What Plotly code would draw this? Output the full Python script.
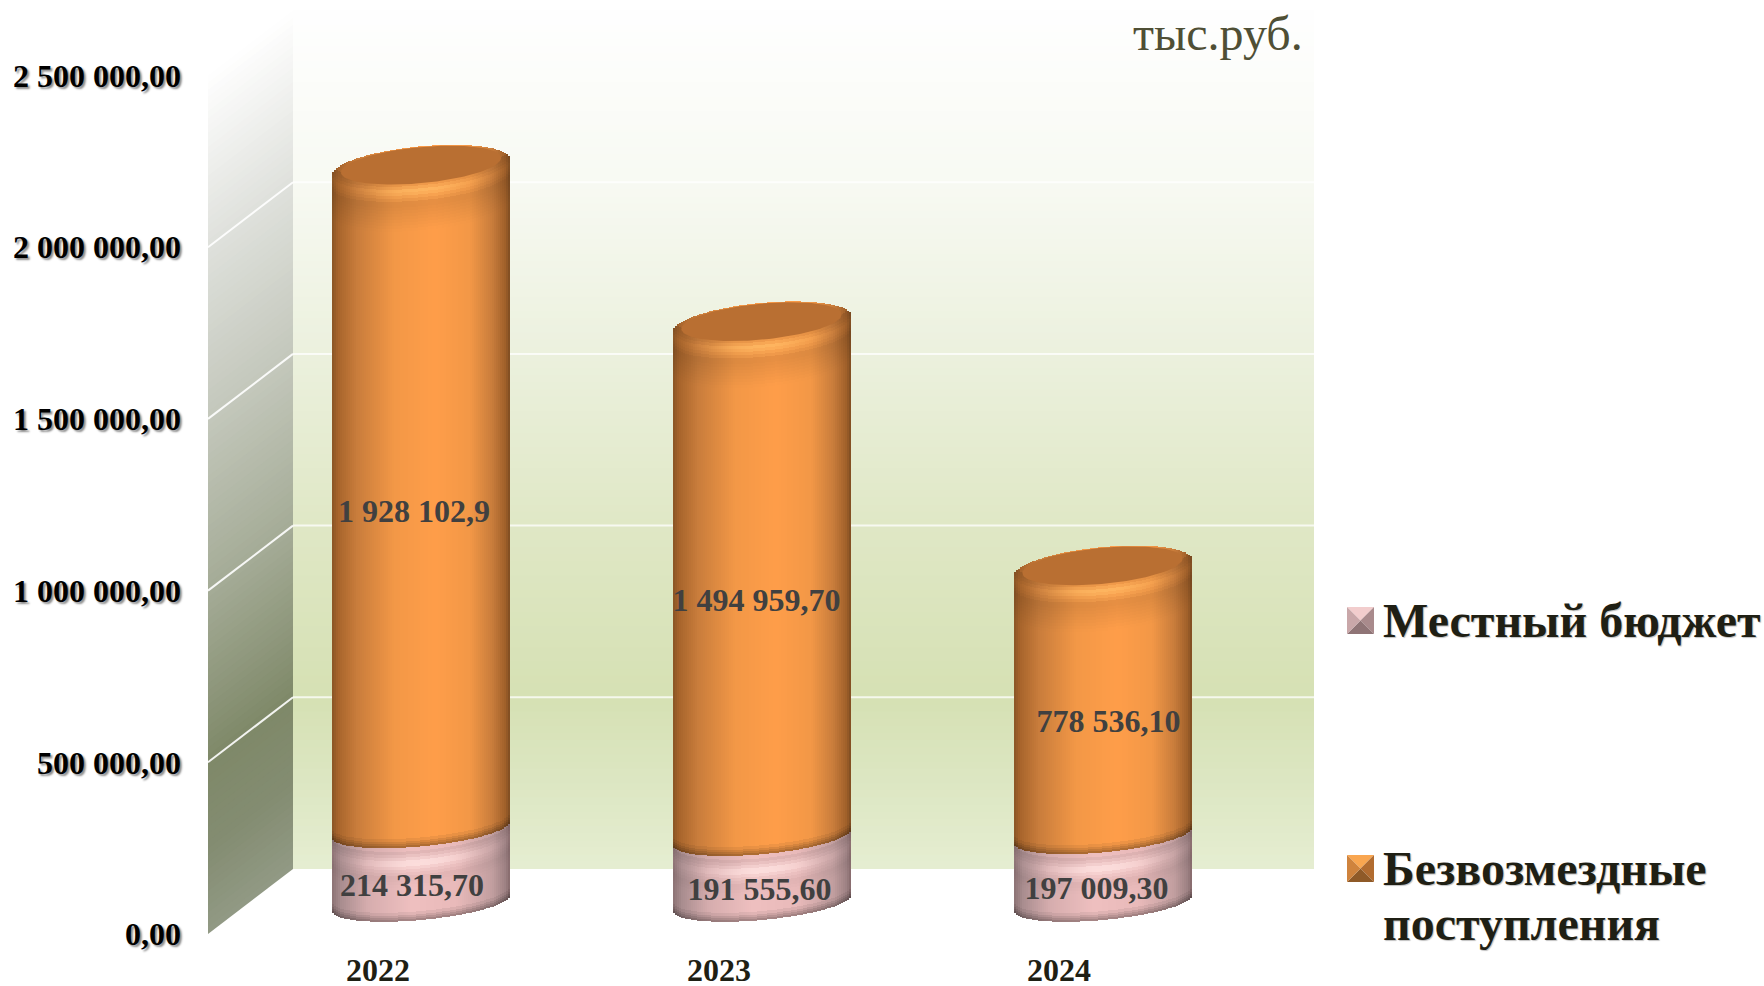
import numpy as np
import plotly.graph_objects as go

# ---------- data ----------
years = ["2022", "2023", "2024"]
local_budget = [214315.70, 191555.60, 197009.30]
grants = [1928102.9, 1494959.70, 778536.10]
local_labels = ["214 315,70", "191 555,60", "197 009,30"]
grant_labels = ["1 928 102,9", "1 494 959,70", "778 536,10"]
tick_values = [0, 500000, 1000000, 1500000, 2000000, 2500000]
tick_labels = ["0,00", "500 000,00", "1 000 000,00", "1 500 000,00", "2 000 000,00", "2 500 000,00"]
series_names = ["Местный бюджет", "Безвозмездные", "поступления"]
unit_label = "тыс.руб."

# ---------- geometry / style ----------
W, H = 1764, 986
PLOT_L, PLOT_B = 182, 948
Y0_PX = 934
PPU = 171.7 / 500000          # pixels per value unit
WALL_L, WALL_R, WALL_END = 208, 293, 1314
DEPTH_PX = 65
BASE_PX = 31                  # cylinder centre above the front-zero line
BAR_CENTERS = [421, 761.5, 1102.5]
YEAR_X = [378, 719, 1059]
HALF_W = 89
ELL_B = 21
SHEAR = 8
STRIP = 2
LABEL_DX_LOCAL = [-9, -2, -6]
LABEL_DX_GRANT = [-7, -5, 6]
LABEL_DY = -22
FONT = "Liberation Serif"

def hexrgb(h):
    return np.array([int(h[i:i + 2], 16) for i in (1, 3, 5)], float)

def ramp(stops, t):
    xs = [s[0] for s in stops]
    cs = np.array([hexrgb(s[1]) for s in stops])
    return np.array([np.interp(t, xs, cs[:, k]) for k in range(3)])

def css(c):
    c = np.clip(c, 0, 255)
    return "rgb(%d,%d,%d)" % tuple(c)

ORANGE = [(-1, "#8a5526"), (-0.93, "#a8652c"), (-0.72, "#c97d3c"), (-0.3, "#f39847"), (0.15, "#ff9e4a"),
          (0.55, "#f39847"), (0.8, "#c97d3c"), (0.95, "#a0602a"), (1, "#7d4c22")]
PINK = [(-1, "#8c7274"), (-0.9, "#a98d8f"), (-0.6, "#d6adae"), (-0.1, "#efc0c0"), (0.4, "#e9baba"),
        (0.8, "#c29fa0"), (0.95, "#9d8183"), (1, "#85696b")]

def v_of(px):            # pixel rows -> value units
    return px / PPU

us = (np.arange(-HALF_W, HALF_W, STRIP) + STRIP / 2) / HALF_W
prof = np.sqrt(1 - us ** 2)

bx, bw, bb, bh, bc = [], [], [], [], []

def add(cx, u, lo_val, hi_val, col):
    if hi_val <= lo_val:
        return
    bx.append(cx + u * HALF_W)
    bw.append(STRIP)
    bb.append(lo_val)
    bh.append(hi_val - lo_val)
    bc.append(css(col))

D = v_of(BASE_PX)

def segment(cx, v0, v1, stops, hl_col, d_pts, m_pts, w_pts, low_b):
    """One cylinder segment between stacked values v0 and v1."""
    edges = np.arange(d_pts[0], d_pts[-1] + 1, 3)
    for u, s in zip(us, prof):
        col = ramp(stops, u)
        lo = D + v0 + v_of(SHEAR * u - low_b * s)
        up = D + v1 + v_of(SHEAR * u + ELL_B * s)
        lower_top = D + v1 + v_of(SHEAR * u - ELL_B * s)
        add(cx, u, lo, up, col)
        # smooth shading under the top rim (highlight arc, then fading shadow)
        for d0, d1 in zip(edges[:-1], edges[1:]):
            mid = (d0 + d1) / 2
            m = np.interp(mid, d_pts, m_pts)
            w = np.interp(mid, d_pts, w_pts)
            c = col * m
            c = c + (hexrgb(hl_col) - c) * w * max(0, 1 - u * u) ** 3
            a = lower_top - v_of(d1)
            b = lower_top - v_of(d0)
            add(cx, u, max(a, lo), min(max(b, lo), up), c)
        # dark edge at the bottom
        for (d0, d1, m) in [(0, 2, 0.70), (2, 4, 0.78), (4, 6, 0.86), (6, 9, 0.94)]:
            add(cx, u, lo + v_of(d0), lo + v_of(d1), col * m)

OR_D = [-12, -6, -2, 2, 7, 14, 28, 42]
OR_M = [0.90, 0.92, 0.96, 1.0, 0.97, 0.90, 0.95, 1.0]
OR_W = [0.0, 0.05, 0.35, 0.75, 0.3, 0.0, 0.0, 0.0]
PK_D = [0, 6, 12, 18, 26, 36]
PK_M = [0.93, 0.97, 1.03, 1.0, 0.96, 1.0]
PK_W = [0.0, 0.3, 0.9, 0.3, 0.0, 0.0]

for i, cx in enumerate(BAR_CENTERS):
    segment(cx, 0, local_budget[i], PINK, "#ffe6e4", PK_D, PK_M, PK_W, 17)
for i, cx in enumerate(BAR_CENTERS):
    segment(cx, local_budget[i], local_budget[i] + grants[i], ORANGE, "#ffc06a", OR_D, OR_M, OR_W, 17)

fig = go.Figure()
fig.add_trace(go.Bar(x=bx, y=bh, base=bb, width=bw, marker=dict(color=bc, line=dict(width=0)),
                     showlegend=False, hoverinfo="skip"))

# top caps
theta = np.linspace(0, 2 * np.pi, 120)
for i, cx in enumerate(BAR_CENTERS):
    total = local_budget[i] + grants[i]
    a = HALF_W * 0.9
    b = ELL_B * 0.86
    xs = cx + a * np.cos(theta)
    ys = D + total + v_of(2.2 + SHEAR * 0.9 * np.cos(theta) + b * np.sin(theta))
    fig.add_trace(go.Scatter(x=xs, y=ys, mode="lines", fill="toself", fillcolor="#b96f32",
                             line=dict(width=0), showlegend=False, hoverinfo="skip"))

# value labels
lx, ly, lt = [], [], []
for i, cx in enumerate(BAR_CENTERS):
    lx.append(cx + LABEL_DX_LOCAL[i])
    ly.append(D + local_budget[i] / 2 + v_of(LABEL_DY))
    lt.append(local_labels[i])
    lx.append(cx + LABEL_DX_GRANT[i])
    ly.append(D + local_budget[i] + grants[i] / 2 + v_of(LABEL_DY + (6 if i == 0 else 0)))
    lt.append(grant_labels[i])
fig.add_trace(go.Scatter(x=lx, y=ly, text=lt, mode="text", textposition="middle center",
                         textfont=dict(family=FONT, size=32, color="#404040", weight="bold"),
                         showlegend=False, hoverinfo="skip"))

# ---------- walls ----------
shapes = []
wall_stops = [(0, "#e6eed2"), (0.1, "#dde7c3"), (0.2, "#d6e1b4"), (0.4, "#e0e8c6"), (0.6, "#ecf1de"),
              (0.8, "#f8faf3"), (1, "#ffffff")]
side_stops = [(0, "#929a85"), (0.1, "#848d72"), (0.2, "#7f8969"), (0.4, "#a5ac97"), (0.6, "#c4c8bc"),
              (0.8, "#dfe1dc"), (1, "#ffffff")]
N = 120
vmax = tick_values[-1]
for k in range(N):
    v0, v1 = vmax * k / N, vmax * (k + 1.2) / N
    t = (k + 0.5) / N
    v1c = min(v1, vmax)
    shapes.append(dict(type="rect", xref="x", yref="y", x0=WALL_R, x1=WALL_END,
                       y0=v0 + v_of(DEPTH_PX), y1=v1c + v_of(DEPTH_PX),
                       fillcolor=css(ramp(wall_stops, t)), line=dict(width=0), layer="below"))
    path = "M %g,%g L %g,%g L %g,%g L %g,%g Z" % (
        WALL_L, v0, WALL_R, v0 + v_of(DEPTH_PX), WALL_R, v1c + v_of(DEPTH_PX), WALL_L, v1c)
    shapes.append(dict(type="path", xref="x", yref="y", path=path,
                       fillcolor=css(ramp(side_stops, t)), line=dict(width=0), layer="below"))
for v in tick_values[1:-1]:
    shapes.append(dict(type="line", xref="x", yref="y", x0=WALL_L, x1=WALL_R, y0=v, y1=v + v_of(DEPTH_PX),
                       line=dict(color="rgba(255,255,255,0.9)", width=2), layer="below"))
    shapes.append(dict(type="line", xref="x", yref="y", x0=WALL_R, x1=WALL_END,
                       y0=v + v_of(DEPTH_PX), y1=v + v_of(DEPTH_PX),
                       line=dict(color="rgba(255,255,255,0.75)", width=2), layer="below"))

# ---------- legend swatches (bevelled squares) ----------
def py_v(p):
    return (Y0_PX - p) / PPU

def swatch(x0, y0, size, top, left, right, bottom):
    x1, y1 = x0 + size, y0 + size
    cx, cy = x0 + size * .5, y0 + size * .5
    faces = [
        ([(x0, y0), (x1, y0), (cx, cy)], top),
        ([(x1, y0), (x1, y1), (cx, cy)], right),
        ([(x1, y1), (x0, y1), (cx, cy)], bottom),
        ([(x0, y1), (x0, y0), (cx, cy)], left),
    ]
    out = []
    for pts, col in faces:
        path = "M " + " L ".join("%g,%g" % (px, py_v(py)) for px, py in pts) + " Z"
        out.append(dict(type="path", xref="x", yref="y", path=path, fillcolor=col, line=dict(width=0)))
    return out

shapes += swatch(1347, 607, 27, "#f2cdcd", "#c9a7a9", "#a98a8c", "#8f7476")
shapes += swatch(1347, 855, 27, "#f9a650", "#cf833d", "#b26c30", "#8f5a28")

LEG_FONT = dict(family=FONT, size=48, color="#1f1f14", weight="bold", shadow="1px 1px 1px rgba(0,0,0,0.25)")
annotations = [
    dict(x=1131, y=py_v(33), xref="x", yref="y", text=unit_label, showarrow=False, xanchor="left", yanchor="middle",
         font=dict(family=FONT, size=48, color="#4f4f35")),
    dict(x=1381, y=py_v(620), xref="x", yref="y", text=series_names[0], showarrow=False, xanchor="left",
         yanchor="middle", font=LEG_FONT),
    dict(x=1381, y=py_v(868), xref="x", yref="y", text=series_names[1], showarrow=False, xanchor="left",
         yanchor="middle", font=LEG_FONT),
    dict(x=1381, y=py_v(923), xref="x", yref="y", text=series_names[2], showarrow=False, xanchor="left",
         yanchor="middle", font=LEG_FONT),
]

fig.update_layout(
    width=W, height=H, autosize=False, barmode="overlay", bargap=0,
    margin=dict(l=PLOT_L, r=0, t=0, b=H - PLOT_B, pad=0, autoexpand=False),
    paper_bgcolor="white", plot_bgcolor="white", shapes=shapes, annotations=annotations,
    showlegend=False,
    xaxis=dict(range=[PLOT_L, W], tickmode="array", tickvals=YEAR_X, ticktext=years, showgrid=False,
               zeroline=False, showline=False, ticks="", fixedrange=True, automargin=False,
               tickfont=dict(family=FONT, size=32, color="#1f1f14", weight="bold")),
    yaxis=dict(range=[(Y0_PX - PLOT_B) / PPU, Y0_PX / PPU], tickmode="array", tickvals=tick_values,
               ticktext=tick_labels, showgrid=False, zeroline=False, showline=False, ticks="", fixedrange=True,
               automargin=False,
               tickfont=dict(family=FONT, size=32, color="#000000", weight="bold",
                             shadow="2px 2px 2px rgba(0,0,0,0.45)")),
)

fig.write_html("out.html", post_script="document.body.style.margin='0';", config={"displayModeBar": False})
